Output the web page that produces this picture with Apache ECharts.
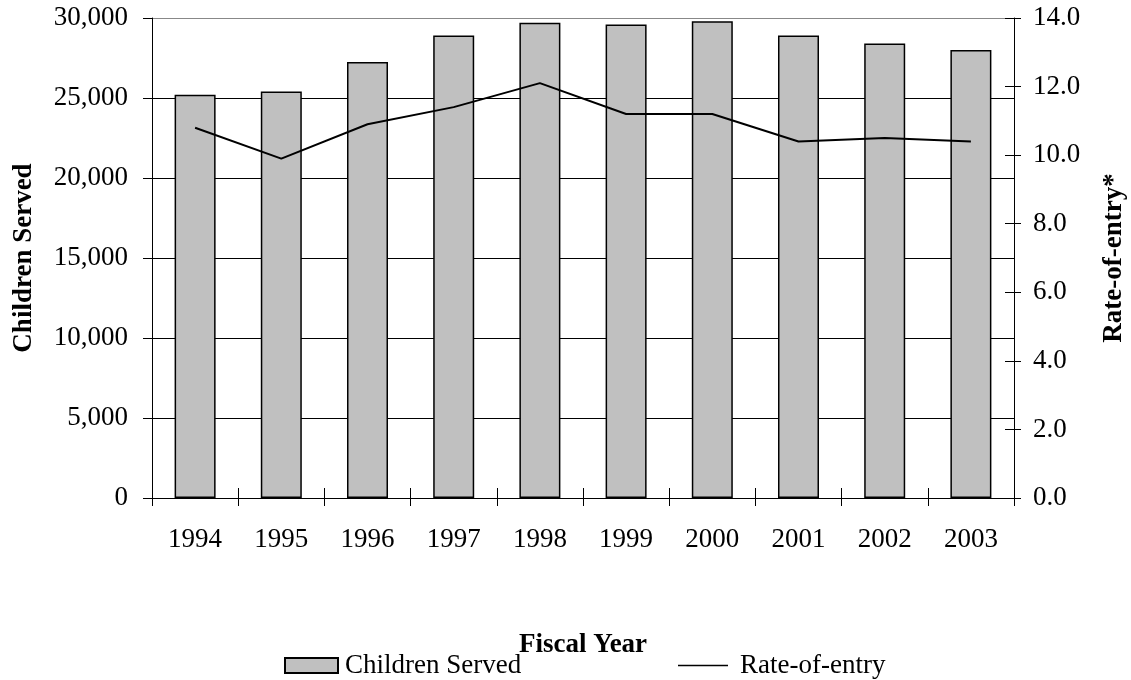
<!DOCTYPE html>
<html>
<head>
<meta charset="utf-8">
<script src="https://cdn.jsdelivr.net/npm/echarts@6/dist/echarts.min.js"></script>
<style>
  html, body { margin: 0; padding: 0; background: #fff; }
  #chart { width: 1131px; height: 680px; }
</style>
</head>
<body>
<div id="chart"></div>
<script>
// Fiscal years shown on the category axis
const years = ['1994', '1995', '1996', '1997', '1998', '1999', '2000', '2001', '2002', '2003'];
// Number of children served per fiscal year (left axis)
const childrenServed = [25200, 25400, 27250, 28900, 29700, 29600, 29800, 28900, 28400, 28000];
// Rate-of-entry per fiscal year (right axis)
const rateOfEntry = [10.8, 9.9, 10.9, 11.4, 12.1, 11.2, 11.2, 10.4, 10.5, 10.4];

const FONT = '"Liberation Serif", "Times New Roman", serif';
const FS = 27;

function withCommas(v) {
  return String(v).replace(/\B(?=(\d{3})+(?!\d))/g, ',');
}

const chart = echarts.init(document.getElementById('chart'), null, { renderer: 'canvas' });

chart.setOption({
  backgroundColor: '#ffffff',
  animation: false,
  textStyle: { fontFamily: FONT, color: '#000' },
  grid: {
    left: 152, right: 117, top: 18, bottom: 182,
    containLabel: false,
    outerBoundsMode: 'none'
  },
  legend: [
    {
      data: [{ name: 'Children Served', icon: 'rect' }],
      left: 284, top: 652,
      itemWidth: 53, itemHeight: 15, itemGap: 0,
      textStyle: { fontFamily: FONT, fontSize: FS, color: '#000', padding: [0, 0, 0, 2] },
      padding: 0
    },
    {
      data: [{ name: 'Rate-of-entry', icon: 'rect' }],
      left: 678, top: 652,
      itemWidth: 50, itemHeight: 1.5, itemGap: 0,
      textStyle: { fontFamily: FONT, fontSize: FS, color: '#000', padding: [0, 0, 0, 7] },
      padding: 0
    }
  ],
  xAxis: [
    {
      type: 'category',
      data: years,
      boundaryGap: true,
      name: 'Fiscal Year',
      nameLocation: 'middle',
      nameGap: 134,
      nameTextStyle: { fontFamily: FONT, fontSize: FS, fontWeight: 'bold', color: '#000' },
      axisLine: { show: true, lineStyle: { color: '#000', width: 1 } },
      axisTick: { show: true, alignWithLabel: false, length: 8, lineStyle: { color: '#000' } },
      axisLabel: { fontFamily: FONT, fontSize: FS, color: '#000', margin: 28 },
      splitLine: { show: false }
    },
    {
      // inner half of the crossing tick marks on the category axis
      type: 'category',
      data: years,
      position: 'bottom',
      boundaryGap: true,
      axisLine: { show: false },
      axisTick: { show: true, inside: true, length: 10, lineStyle: { color: '#000' } },
      axisLabel: { show: false },
      splitLine: { show: false }
    }
  ],
  yAxis: [
    {
      type: 'value',
      min: 0, max: 30000, interval: 5000,
      position: 'left',
      name: 'Children Served',
      nameLocation: 'middle',
      nameGap: 114,
      nameRotate: 90,
      nameTextStyle: { fontFamily: FONT, fontSize: FS, fontWeight: 'bold', color: '#000' },
      axisLine: { show: true, lineStyle: { color: '#000', width: 1 } },
      axisTick: { show: true, length: 9, lineStyle: { color: '#000' } },
      axisLabel: { fontFamily: FONT, fontSize: FS, color: '#000', margin: 24, formatter: withCommas },
      splitLine: {
        show: true,
        lineStyle: { color: ['#000', '#000', '#000', '#000', '#000', '#000', '#888'], width: 1 }
      }
    },
    {
      type: 'value',
      min: 0, max: 14, interval: 2,
      position: 'right',
      name: 'Rate-of-entry*',
      nameLocation: 'middle',
      nameGap: 87,
      nameRotate: 90,
      nameTextStyle: { fontFamily: FONT, fontSize: FS, fontWeight: 'bold', color: '#000' },
      axisLine: { show: true, lineStyle: { color: '#000', width: 1 } },
      axisTick: { show: true, length: 7, lineStyle: { color: '#000' } },
      axisLabel: { fontFamily: FONT, fontSize: FS, color: '#000', margin: 19, formatter: v => v.toFixed(1) },
      splitLine: { show: false }
    },
    {
      // inner half of the crossing tick marks on the right axis
      type: 'value',
      min: 0, max: 14, interval: 2,
      position: 'right',
      offset: 0,
      axisLine: { show: false },
      axisTick: { show: true, inside: true, length: 9, lineStyle: { color: '#000' } },
      axisLabel: { show: false },
      splitLine: { show: false }
    }
  ],
  series: [
    {
      name: 'Children Served',
      type: 'bar',
      xAxisIndex: 0,
      yAxisIndex: 0,
      data: childrenServed,
      barWidth: 41,
      itemStyle: { color: '#c0c0c0', borderColor: '#000', borderWidth: 1.5 },
      z: 2
    },
    {
      name: 'Rate-of-entry',
      type: 'line',
      xAxisIndex: 0,
      yAxisIndex: 1,
      data: rateOfEntry,
      showSymbol: false,
      symbol: 'none',
      lineStyle: { color: '#000', width: 2 },
      itemStyle: { color: '#000' },
      z: 3
    }
  ]
});
</script>
</body>
</html>
